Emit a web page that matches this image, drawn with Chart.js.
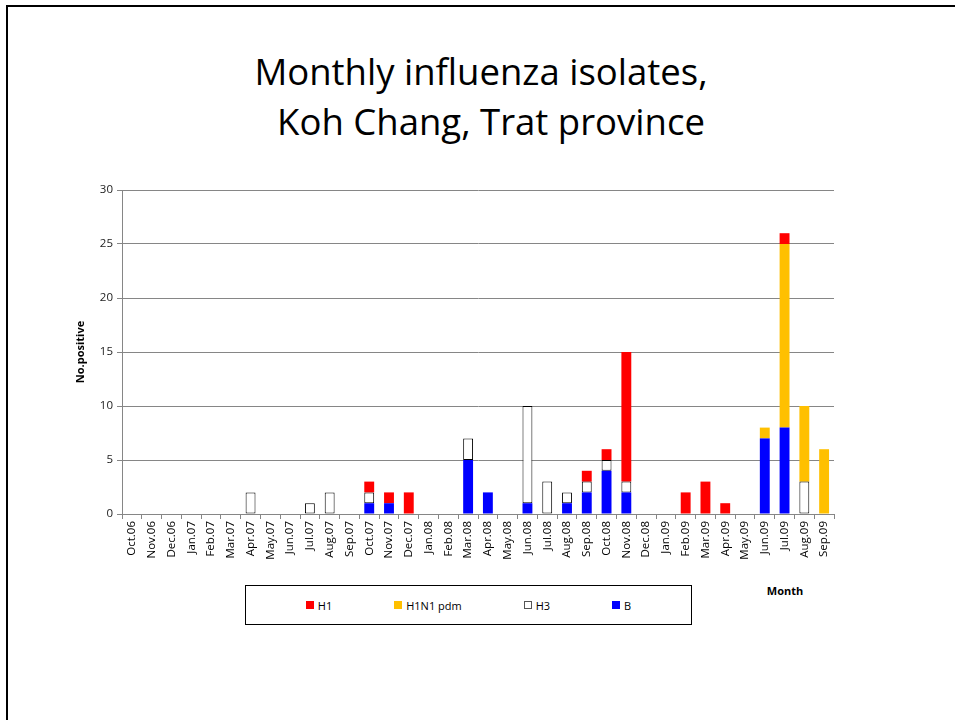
<!DOCTYPE html>
<html>
<head>
<meta charset="utf-8">
<script src="https://cdn.jsdelivr.net/npm/chart.js@4.4.1/dist/chart.umd.min.js"></script>
<style>
  html, body { margin: 0; padding: 0; background: #fff; }
  body { width: 955px; height: 720px; position: relative; overflow: hidden; font-family: "Open Sans", sans-serif; }
  .frame { position: absolute; left: 6px; top: 5px; width: 1000px; height: 800px; border-top: 2px solid #000; border-left: 2px solid #000; }
  .title { position: absolute; left: 0; width: 962px; top: 46px; text-align: center; font-size: 36.5px; line-height: 50px; color: #000; }
  .title .second { padding-left: 20px; }
  .chart-wrap { position: absolute; left: 0; top: 170px; width: 955px; height: 410px; }
  .month { position: absolute; left: 760px; top: 583px; width: 50px; text-align: center; font-size: 11px; font-weight: bold; }
  .legend { position: absolute; left: 245px; top: 585px; width: 445px; height: 38px; border: 1px solid #000; display: flex; justify-content: center; align-items: center; font-size: 11px; }
  .legend .item { display: flex; align-items: center; margin: 0 31px; }
  .legend .box { width: 8px; height: 8px; margin-right: 4px; box-sizing: border-box; }
</style>
</head>
<body>
<div class="frame"></div>
<div class="title">Monthly influenza isolates,<br><span class="second">Koh Chang, Trat province</span></div>
<div class="chart-wrap"><canvas id="chart" width="955" height="410"></canvas></div>
<div class="month">Month</div>
<div class="legend" id="legend"></div>
<script>
const months = ['Oct.06', 'Nov.06', 'Dec.06', 'Jan.07', 'Feb.07', 'Mar.07', 'Apr.07', 'May.07', 'Jun.07',
    'Jul.07', 'Aug.07', 'Sep.07', 'Oct.07', 'Nov.07', 'Dec.07', 'Jan.08', 'Feb.08', 'Mar.08', 'Apr.08',
    'May.08', 'Jun.08', 'Jul.08', 'Aug.08', 'Sep.08', 'Oct.08', 'Nov.08', 'Dec.08', 'Jan.09', 'Feb.09',
    'Mar.09', 'Apr.09', 'May.09', 'Jun.09', 'Jul.09', 'Aug.09', 'Sep.09'];

// stacked bottom to top: B, H3, H1N1 pdm, H1
const bValues    = [0,0,0,0,0,0,0,0,0,0,0,0,1,1,0,0,0,5,2,0,1,0,1,2,4,2,0,0,0,0,0,0,7,8,0,0];
const h3Values   = [0,0,0,0,0,0,2,0,0,1,2,0,1,0,0,0,0,2,0,0,9,3,1,1,1,1,0,0,0,0,0,0,0,0,3,0];
const h1n1Values = [0,0,0,0,0,0,0,0,0,0,0,0,0,0,0,0,0,0,0,0,0,0,0,0,0,0,0,0,0,0,0,0,1,17,7,6];
const h1Values   = [0,0,0,0,0,0,0,0,0,0,0,0,1,1,2,0,0,0,0,0,0,0,0,1,1,12,0,0,2,3,1,0,0,1,0,0];

const yTicks = [0, 5, 10, 15, 20, 25, 30];

// empty months are left out so no zero-height bar is drawn
const clean = arr => arr.map(v => v === 0 ? null : v);

const barCommon = {
    barPercentage: 0.5,
    categoryPercentage: 1.0,
    borderSkipped: false
};

const datasets = [
    Object.assign({ label: 'B', data: clean(bValues), backgroundColor: '#0000FF', borderWidth: 0 }, barCommon),
    Object.assign({ label: 'H3', data: clean(h3Values), backgroundColor: '#FFFFFF', borderColor: '#000000', borderWidth: 1 }, barCommon),
    Object.assign({ label: 'H1N1 pdm', data: clean(h1n1Values), backgroundColor: '#FFC000', borderWidth: 0 }, barCommon),
    Object.assign({ label: 'H1', data: clean(h1Values), backgroundColor: '#FF0000', borderWidth: 0 }, barCommon)
];

const ctx = document.getElementById('chart').getContext('2d');
const chart = new Chart(ctx, {
    type: 'bar',
    data: { labels: months, datasets: datasets },
    options: {
        responsive: false,
        animation: false,
        layout: { padding: { left: 74, right: 121, top: 20, bottom: 0 } },
        plugins: {
            legend: { display: false },
            tooltip: { enabled: false }
        },
        scales: {
            x: {
                stacked: true,
                offset: true,
                afterFit: scale => { scale.height = 66; },
                grid: { drawOnChartArea: false, drawTicks: true, tickLength: 5, color: '#868686', offset: true },
                border: { display: true, color: '#868686' },
                ticks: {
                    autoSkip: false,
                    maxRotation: 90,
                    minRotation: 90,
                    padding: 2,
                    color: '#000',
                    font: { family: 'Open Sans', size: 11.5 }
                }
            },
            y: {
                stacked: true,
                min: 0,
                max: 30,
                afterFit: scale => { scale.width = 48; },
                afterBuildTicks: scale => { scale.ticks = yTicks.map(v => ({ value: v })); },
                grid: { color: '#868686', tickLength: 5 },
                border: { display: true, color: '#868686' },
                ticks: {
                    padding: 4,
                    color: '#222',
                    font: { family: 'Open Sans', size: 11.5 }
                },
                title: {
                    display: true,
                    text: 'No.positive',
                    color: '#000',
                    font: { family: 'Open Sans', size: 11, weight: 'bold' },
                    padding: { top: 0, bottom: 4 }
                }
            }
        }
    }
});

// legend box, same order as the reference (top of stack first)
const legendEl = document.getElementById('legend');
datasets.slice().reverse().forEach(ds => {
    const item = document.createElement('div');
    item.className = 'item';
    const box = document.createElement('span');
    box.className = 'box';
    box.style.background = ds.backgroundColor;
    if (ds.borderWidth) box.style.border = '1px solid #555';
    const txt = document.createElement('span');
    txt.textContent = ds.label;
    item.appendChild(box);
    item.appendChild(txt);
    legendEl.appendChild(item);
});
</script>
</body>
</html>
